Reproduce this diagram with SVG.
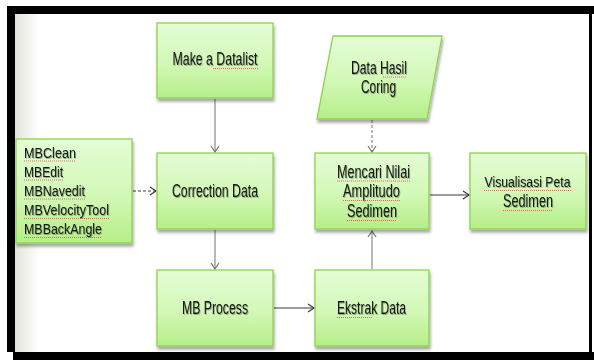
<svg xmlns="http://www.w3.org/2000/svg" width="594" height="360" viewBox="0 0 594 360">
  <style>
    .box { fill: url(#boxFill); stroke: #8fd14f; stroke-width: 1.3; filter: url(#shadow); }
    .lbl { font-family: "Liberation Sans", Arial, sans-serif; font-size: 17.5px; fill: #141414; text-anchor: middle; filter: url(#textShadow); }
    .lbl.sm { font-size: 15.5px; }
    .lst { font-family: "Liberation Sans", Arial, sans-serif; font-size: 15.5px; fill: #141414; filter: url(#textShadow); }
    .wavy { fill: none; stroke: #e03030; stroke-width: 0.9; stroke-dasharray: 1 1; opacity: 0.8; }
    .conn { fill: none; stroke-width: 1.2; }
    .grey { stroke: #8a8a8a; }
    .dark { stroke: #3a3a3a; }
    .dash { stroke-dasharray: 3 2; }
  </style>
  <defs>
    <linearGradient id="boxFill" x1="0" y1="0" x2="0" y2="1">
      <stop offset="0" stop-color="#e4fdd6"/>
      <stop offset="0.55" stop-color="#d2f8b6"/>
      <stop offset="1" stop-color="#b6ee88"/>
    </linearGradient>
    <linearGradient id="edgeFade" x1="0" y1="0" x2="1" y2="0">
      <stop offset="0" stop-color="#e2e5da"/>
      <stop offset="1" stop-color="#ffffff"/>
    </linearGradient>
    <filter id="shadow" x="-10%" y="-10%" width="125%" height="130%">
      <feDropShadow dx="1" dy="3" stdDeviation="1.5" flood-color="#000" flood-opacity="0.35"/>
    </filter>
    <filter id="textShadow" x="-15%" y="-50%" width="130%" height="200%">
      <feDropShadow dx="0.8" dy="1" stdDeviation="0.5" flood-color="#000" flood-opacity="0.3"/>
    </filter>
    <marker id="arrGrey" markerUnits="userSpaceOnUse" markerWidth="12" markerHeight="12" refX="7" refY="5" orient="auto">
      <path d="M1,1 L7,5 L1,9" fill="none" stroke="#707070" stroke-width="1.2"/>
    </marker>
    <marker id="arrDark" markerUnits="userSpaceOnUse" markerWidth="12" markerHeight="12" refX="7" refY="5" orient="auto">
      <path d="M1,1 L7,5 L1,9" fill="none" stroke="#3a3a3a" stroke-width="1.2"/>
    </marker>
  </defs>

  <!-- page background and black frame -->
  <rect x="0" y="0" width="594" height="360" fill="#ffffff"/>
  <rect x="15" y="14" width="24" height="338" fill="url(#edgeFade)"/>
  <rect x="7" y="6" width="587" height="8" fill="#000"/>
  <rect x="7" y="6" width="8" height="346" fill="#000"/>
  <rect x="13" y="352" width="581" height="8" fill="#000"/>
  <rect x="589" y="14" width="3" height="338" fill="#000"/>

  <!-- connectors -->
  <g id="connectors">
    <line class="conn grey" x1="215" y1="99" x2="215" y2="152" marker-end="url(#arrGrey)"/>
    <line class="conn grey" x1="215" y1="230" x2="215" y2="269" marker-end="url(#arrGrey)"/>
    <line class="conn dark dash" x1="133" y1="191" x2="156" y2="191" marker-end="url(#arrDark)"/>
    <line class="conn dark" x1="274" y1="308" x2="314" y2="308" marker-end="url(#arrDark)"/>
    <line class="conn grey" x1="372" y1="269" x2="372" y2="231" marker-end="url(#arrGrey)"/>
    <line class="conn grey dash" x1="372" y1="120" x2="372" y2="152" marker-end="url(#arrGrey)"/>
    <line class="conn dark" x1="430" y1="195" x2="469" y2="195" marker-end="url(#arrDark)"/>
  </g>

  <g id="make-datalist">
    <rect class="box" x="157" y="23" width="116" height="75"/>
    <text class="lbl" x="215" y="65" textLength="85" lengthAdjust="spacingAndGlyphs">Make a Datalist</text>
    <path class="wavy" d="M213,68.5 H258"/>
  </g>

  <g id="mb-tools">
    <rect class="box" x="16" y="139" width="116" height="104"/>
    <text class="lst" x="24" y="158" textLength="52" lengthAdjust="spacingAndGlyphs">MBClean</text>
    <text class="lst" x="24" y="177" textLength="39" lengthAdjust="spacingAndGlyphs">MBEdit</text>
    <text class="lst" x="24" y="196" textLength="61" lengthAdjust="spacingAndGlyphs">MBNavedit</text>
    <text class="lst" x="24" y="215" textLength="85" lengthAdjust="spacingAndGlyphs">MBVelocityTool</text>
    <text class="lst" x="24" y="234" textLength="78" lengthAdjust="spacingAndGlyphs">MBBackAngle</text>
    <path class="wavy" d="M24,161 H76 M24,180 H63 M24,199 H85 M24,218.5 H109 M24,237.5 H102"/>
  </g>

  <g id="correction-data">
    <rect class="box" x="157" y="153" width="116" height="76"/>
    <text class="lbl" x="215" y="197" textLength="86" lengthAdjust="spacingAndGlyphs">Correction Data</text>
  </g>

  <g id="mb-process">
    <rect class="box" x="157" y="270" width="116" height="76"/>
    <text class="lbl" x="215" y="314" textLength="66" lengthAdjust="spacingAndGlyphs">MB Process</text>
  </g>

  <g id="ekstrak-data">
    <rect class="box" x="315" y="270" width="114" height="76"/>
    <text class="lbl" x="371.5" y="314" textLength="69" lengthAdjust="spacingAndGlyphs">Ekstrak Data</text>
    <path class="wavy" d="M337,317.5 H373"/>
  </g>

  <g id="data-hasil-coring">
    <polygon class="box" points="333,36 442,36 427,119 317,119"/>
    <text class="lbl" x="379" y="74" textLength="56" lengthAdjust="spacingAndGlyphs">Data Hasil</text>
    <text class="lbl" x="378.5" y="93" textLength="35" lengthAdjust="spacingAndGlyphs">Coring</text>
    <path class="wavy" d="M383,77 H407"/>
  </g>

  <g id="mencari-nilai">
    <rect class="box" x="315" y="153" width="114" height="76"/>
    <text class="lbl" x="373.5" y="178" textLength="73" lengthAdjust="spacingAndGlyphs">Mencari Nilai</text>
    <text class="lbl" x="371.5" y="197" textLength="57" lengthAdjust="spacingAndGlyphs">Amplitudo</text>
    <text class="lbl" x="372" y="217" textLength="50" lengthAdjust="spacingAndGlyphs">Sedimen</text>
    <path class="wavy" d="M337,181 H410 M343,200.5 H400 M347,220.5 H397"/>
  </g>

  <g id="visualisasi">
    <rect class="box" x="470" y="153" width="116" height="76"/>
    <text class="lbl sm" x="527.5" y="187" textLength="86" lengthAdjust="spacingAndGlyphs">Visualisasi Peta</text>
    <text class="lbl" x="528" y="207" textLength="50" lengthAdjust="spacingAndGlyphs">Sedimen</text>
    <path class="wavy" d="M484,190.5 H571 M503,210.5 H553"/>
  </g>
</svg>
